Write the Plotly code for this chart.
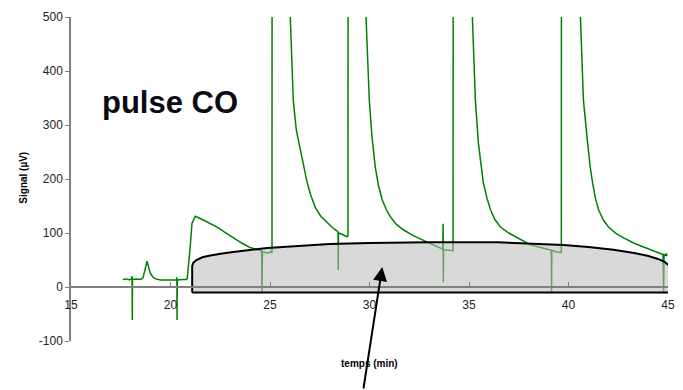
import plotly.graph_objects as go

# Green detector trace (time in min, signal in µV)
time_min = [
    17.60, 17.80, 17.95, 18.05, 18.07, 18.08, 18.09, 18.30, 18.50, 18.62,
    18.70, 18.78, 18.82, 18.88, 18.97, 19.10, 19.25, 19.50, 20.00, 20.30,
    20.32, 20.33, 20.34, 20.60, 20.80, 20.84, 20.92, 20.99, 21.08, 21.20,
    21.25, 21.60, 22.00, 22.34, 22.70, 23.15, 23.60, 24.00, 24.30, 24.55,
    24.58, 24.60, 24.62, 24.90, 25.05, 25.10, 25.12, 25.60,
    26.02, 26.10, 26.17, 26.32, 26.52, 26.70, 26.87, 27.05, 27.27, 27.55,
    27.88, 28.20, 28.40, 28.42, 28.43, 28.44, 28.53, 28.88, 28.92, 28.94, 29.40,
    29.84, 29.92, 29.99, 30.12, 30.29, 30.45, 30.64, 30.85, 31.05, 31.35,
    31.70, 32.20, 32.71, 33.20, 33.68, 33.70, 33.71, 33.72, 34.00, 34.20,
    34.22, 34.70,
    35.17, 35.25, 35.32, 35.47, 35.60, 35.72, 35.90, 36.08, 36.30, 36.58,
    37.00, 37.43, 37.75, 38.09, 38.60, 39.09, 39.14, 39.15, 39.16, 39.40,
    39.60, 39.64, 39.66, 40.10,
    40.60, 40.68, 40.75, 40.96, 41.08, 41.21, 41.35, 41.51, 41.75, 42.01,
    42.40, 42.77, 43.30, 43.77, 44.30, 44.75, 44.78, 44.80, 44.88, 44.92,
    44.95,
]
signal_uv = [
    14, 15, 13, 16, 20, -61, 14, 15, 14, 17,
    32, 46, 48, 40, 27, 19, 15, 13, 13, 13,
    18, -61, 13, 14, 14, 16, 45, 74, 118, 130,
    131, 125, 118, 111, 102, 91, 81, 73, 69, 67,
    67, -9, 65, 63, 65, 63, 2500, 900,
    500, 400, 346, 291, 254, 220, 193, 170, 148, 131,
    119, 108, 103, 100, 31, 100, 99, 93, 95, 2500, 900,
    500, 400, 346, 280, 222, 188, 161, 143, 130, 116,
    106, 95, 87, 78, 70, 117, 9, 69, 68, 67,
    2500, 900,
    500, 400, 346, 267, 225, 193, 165, 143, 125, 111,
    100, 91, 84, 78, 73, 69, 68, -9, 68, 65,
    63, 64, 2500, 900,
    500, 400, 346, 267, 225, 193, 165, 143, 124, 111,
    99, 91, 81, 74, 66, 60, -9, 60, 59, 62,
    57,
]

# Grey highlighted region outline (time in min, signal in µV)
region_x = [21.09, 21.09, 21.15, 21.3, 21.6, 22.0, 22.6, 23.15, 24.86, 26.5,
            28.0, 30.0, 33.0, 36.4, 38.5, 39.75, 41.0, 42.26, 43.3, 43.97,
            44.5, 44.85, 45.05, 45.08, 45.08, 21.09]
region_y = [-10, 39, 45, 50, 55, 58.5, 62, 65, 72, 76,
            79.5, 81.5, 83, 83, 80.5, 78, 74, 69, 63, 58,
            52, 46, 40, 35, -10, -10]

x_ticks = [15, 20, 25, 30, 35, 40, 45]
x_tick_labels = ["15", "20", "25", "30", "35", "40", "45"]
y_ticks = [-100, 0, 100, 200, 300, 400, 500]
y_tick_labels = ["-100", "0", "100", "200", "300", "400", "500"]

FONT = "Liberation Sans, Arial, sans-serif"

fig = go.Figure()
fig.add_trace(go.Scatter(x=time_min, y=signal_uv, mode="lines",
                         line=dict(color="#008000", width=1.5),
                         showlegend=False, hoverinfo="skip"))
fig.add_trace(go.Scatter(x=region_x, y=region_y, mode="lines", fill="toself",
                         fillcolor="rgba(185,185,185,0.55)",
                         line=dict(color="black", width=2),
                         showlegend=False, hoverinfo="skip"))

fig.update_layout(
    width=683, height=390,
    margin=dict(l=71, r=15, t=17, b=49, autoexpand=False),
    paper_bgcolor="white", plot_bgcolor="white",
    font=dict(family=FONT, size=12, color="#222222"),
    xaxis=dict(range=[15, 45], tickvals=x_ticks, ticktext=x_tick_labels,
               ticks="inside", ticklen=4,
               tickcolor="#808080", showline=True, linecolor="#808080",
               linewidth=1.5, showgrid=False, zeroline=False, automargin=False,
               anchor="free", position=1/6, ticklabelstandoff=7,
               tickfont=dict(size=12, color="#222222")),
    yaxis=dict(range=[-100, 500], tickvals=y_ticks, ticktext=y_tick_labels,
               ticks="outside", ticklen=4,
               tickcolor="#808080", showline=True, linecolor="#808080",
               linewidth=1.5, showgrid=False, zeroline=False, automargin=False,
               tickfont=dict(size=12, color="#222222")),
    annotations=[
        dict(text="<b>pulse CO</b>", xref="paper", yref="paper",
             x=0.1658, y=0.7346, xanchor="center", yanchor="middle",
             showarrow=False, font=dict(size=31, color="#0a0a14", family=FONT)),
        dict(text="<b>Signal (µV)</b>", xref="paper", yref="paper",
             x=-0.081, y=0.503, xanchor="center", yanchor="middle",
             textangle=-90, showarrow=False,
             font=dict(size=10, color="black", family=FONT)),
        dict(text="<b>temps (min)</b>", xref="paper", yref="paper",
             x=0.5, y=-0.068, xanchor="center", yanchor="middle",
             showarrow=False, font=dict(size=10, color="black", family=FONT)),
        dict(text="", x=30.64, y=37, xref="x", yref="y",
             ax=-19, ay=123, showarrow=True, arrowhead=2, arrowsize=1.4,
             arrowwidth=2, arrowcolor="black"),
    ],
)

fig.write_html("out.html", config={"displayModeBar": False},
               post_script="document.body.style.margin='0';document.body.style.overflow='hidden';")
